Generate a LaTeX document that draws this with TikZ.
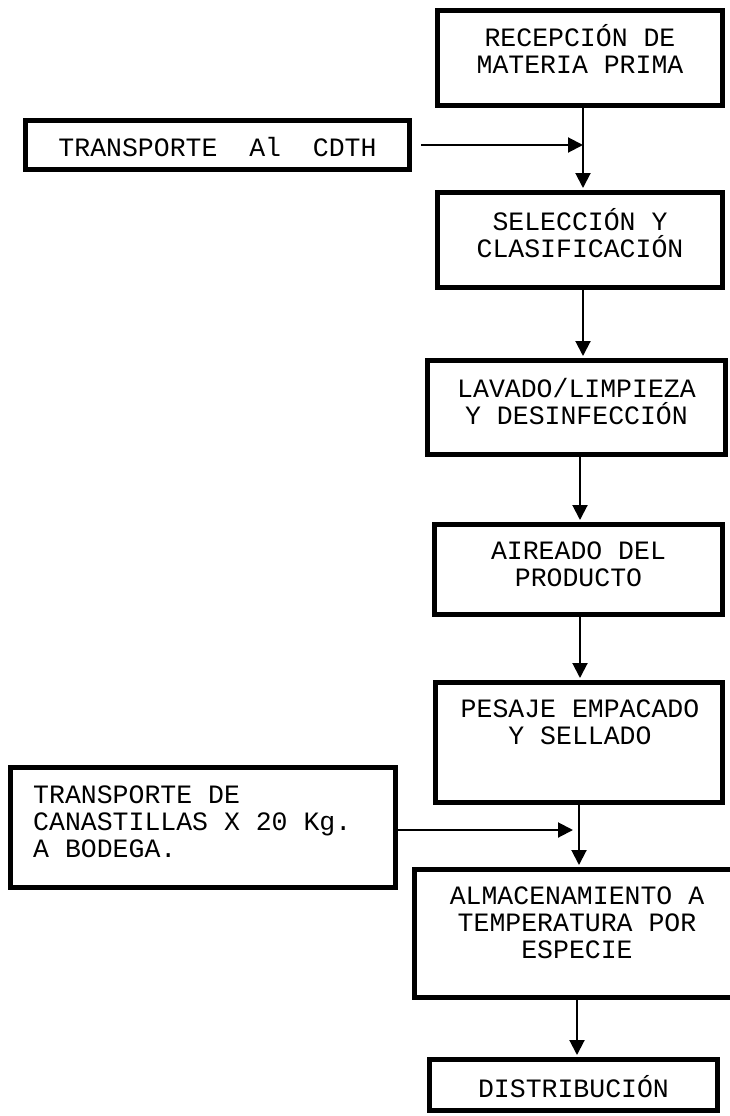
\documentclass[tikz,border=0pt]{standalone}
\usepackage{fontspec}
\newfontfamily\courfont{Liberation Mono}
\usetikzlibrary{arrows.meta}
\tikzset{
  boxnode/.style={draw=black, line width=5pt, fill=none, inner sep=0pt},
  txt/.style={font=\courfont\fontsize{26.5}{27}\selectfont, align=center, inner sep=0pt},
  txtl/.style={font=\courfont\fontsize{26.5}{27}\selectfont, align=left, inner sep=0pt, anchor=west},
  flow/.style={line width=2pt, -{Triangle[width=15pt,length=15pt]}}
}
\begin{document}
\begin{tikzpicture}[x=1pt,y=-1pt]
\useasboundingbox (0,0) rectangle (730,1116);
\clip (0,0) rectangle (730,1116);
% boxes
\node[boxnode, minimum width=285pt, minimum height=95pt] (b1) at (580,58) {};
\node[boxnode, minimum width=384pt, minimum height=49pt] (ta) at (217.5,145) {};
\node[boxnode, minimum width=285pt, minimum height=95pt] (b2) at (580,240) {};
\node[boxnode, minimum width=298pt, minimum height=94pt] (b3) at (576.5,407.5) {};
\node[boxnode, minimum width=288pt, minimum height=90pt] (b4) at (578.5,569.5) {};
\node[boxnode, minimum width=287pt, minimum height=120pt] (b5) at (579,742.5) {};
\node[boxnode, minimum width=385pt, minimum height=120pt] (tb) at (203,827.5) {};
\node[boxnode, minimum width=325pt, minimum height=128pt] (b6) at (577,933.5) {};
\node[boxnode, minimum width=288pt, minimum height=51pt] (b7) at (573.5,1085) {};
% texts
\node[txt] (t1) at (580,49) {RECEPCIÓN DE\\MATERIA PRIMA};
\node[txt] (tta) at (217.5,147.5) {TRANSPORTE\ \ Al\ \ CDTH};
\node[txt] (t2) at (580,233.5) {SELECCIÓN Y\\CLASIFICACIÓN};
\node[txt] (t3) at (576.5,401.5) {LAVADO/LIMPIEZA\\Y DESINFECCIÓN};
\node[txt] (t4) at (578.5,564.5) {AIREADO DEL\\PRODUCTO};
\node[txt] (t5) at (580,722.5) {PESAJE EMPACADO\\Y SELLADO};
\node[txtl] (ttb) at (33,821.5) {TRANSPORTE DE\\CANASTILLAS X 20 Kg.\\A BODEGA.};
\node[txt] (t6) at (577,922.5) {ALMACENAMIENTO A\\TEMPERATURA POR\\ESPECIE};
\node[txt] (t7) at (573.5,1086.5) {DISTRIBUCIÓN};
% junctions
\coordinate (j1) at (583,145);
\coordinate (j2) at (579,830);
% connectors
\draw[flow, shorten >=2pt] (b1.south -| j1) -- (b2.north -| j1);
\draw[flow, shorten <=9pt] (ta.east) -- (j1);
\draw[flow, shorten >=2pt] (b2.south -| j1) -- (b3.north -| j1);
\draw[flow, shorten >=2pt] (b3.south -| 580,0) -- (b4.north -| 580,0);
\draw[flow, shorten >=2pt] (b4.south -| 580,0) -- (b5.north -| 580,0);
\draw[flow, shorten >=2pt] (b5.south -| j2) -- (b6.north -| j2);
\draw[flow, shorten >=6pt] (tb.east |- j2) -- (j2);
\draw[flow, shorten >=2pt] (b6.south -| 577,0) -- (b7.north -| 577,0);
\end{tikzpicture}
\end{document}
